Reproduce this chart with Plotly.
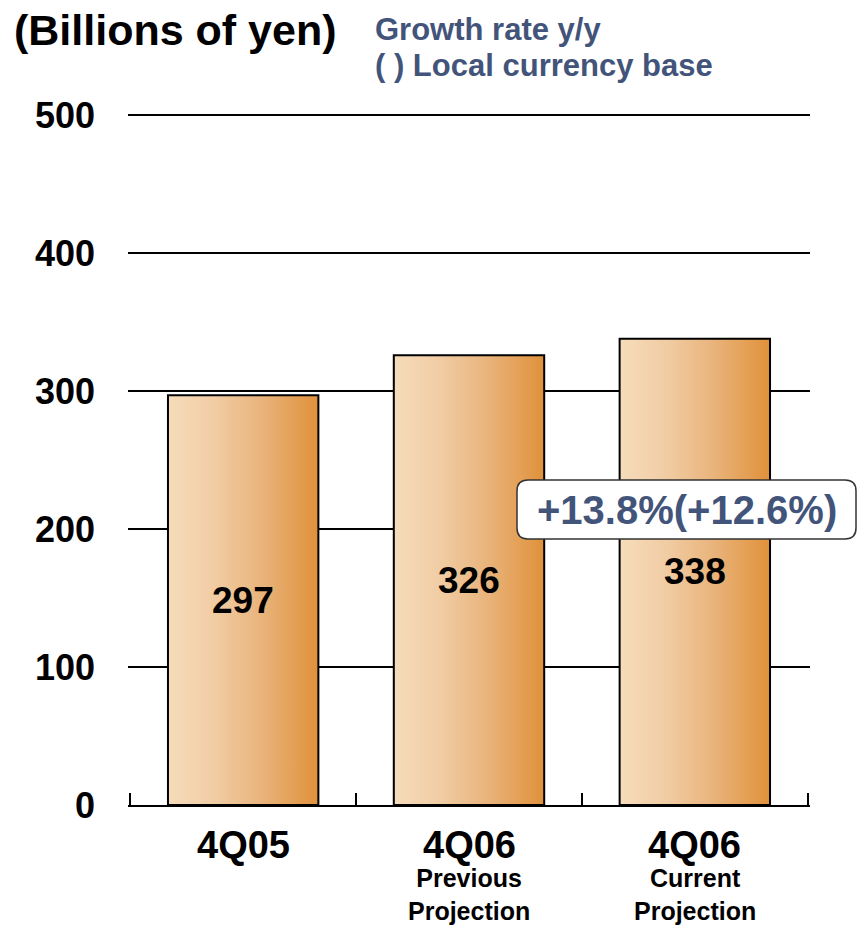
import plotly.graph_objects as go

# Quarterly values (billions of yen)
categories = ["4Q05", "4Q06", "4Q06"]
sublabels = ["", "Previous<br>Projection", "Current<br>Projection"]
values = [297, 326, 338]
growth_label = "+13.8%(+12.6%)"
y_ticks = [0, 100, 200, 300, 400, 500]

FONT = "Liberation Sans, Arial, sans-serif"
BLUE = "#43547a"
BAR_HALF = 0.333
GRADIENT = [[0.0, "#f6dcbb"], [0.3, "#f1cda5"], [0.62, "#e9b47c"], [1.0, "#e0913a"]]

# plot area geometry (pixels)
W, H = 857, 925
ML, MR, MT, MB = 128, 47, 114, 120
PW, PH = W - ML - MR, H - MT - MB
X_PAD = 0.01    # keeps the outer tick marks inside the axis range
Y_TOP = 501     # keeps the 500 gridline inside the axis range


def px_to_paper(px, py):
    return (px - ML) / PW, (H - MB - py) / PH


fig = go.Figure()

for i, v in enumerate(values):
    x0, x1 = i - BAR_HALF, i + BAR_HALF
    fig.add_trace(go.Scatter(
        x=[x0, x1, x1, x0, x0],
        y=[0, 0, v, v, 0],
        mode="lines",
        fill="toself",
        fillgradient=dict(type="horizontal", colorscale=GRADIENT),
        line=dict(color="black", width=2),
        hoverinfo="skip",
        showlegend=False,
    ))
    # value label in the middle of the bar
    fig.add_annotation(x=i, y=v / 2, xref="x", yref="y", text=str(v),
                       showarrow=False,
                       font=dict(family=FONT, size=37, color="black", weight="bold"))

# category labels under the axis
for i, (c, s) in enumerate(zip(categories, sublabels)):
    fig.add_annotation(x=i, y=px_to_paper(0, 845)[1], xref="x", yref="paper",
                       text=c, showarrow=False, yanchor="middle",
                       font=dict(family=FONT, size=38, color="black", weight="bold"))
    if s:
        fig.add_annotation(x=i, y=px_to_paper(0, 894)[1], xref="x", yref="paper",
                           text=s, showarrow=False, yanchor="middle",
                           font=dict(family=FONT, size=25, color="black", weight="bold"))

# headings
fig.add_annotation(x=px_to_paper(12, 0)[0], y=px_to_paper(0, 30)[1],
                   xref="paper", yref="paper", text="(Billions of yen)",
                   showarrow=False, xanchor="left", yanchor="middle",
                   font=dict(family=FONT, size=43, color="black", weight="bold"))
fig.add_annotation(x=px_to_paper(373, 0)[0], y=px_to_paper(0, 29)[1],
                   xref="paper", yref="paper", text="Growth rate y/y",
                   showarrow=False, xanchor="left", yanchor="middle",
                   font=dict(family=FONT, size=31, color=BLUE, weight="bold"))
fig.add_annotation(x=px_to_paper(373, 0)[0], y=px_to_paper(0, 65)[1],
                   xref="paper", yref="paper", text="( ) Local currency base",
                   showarrow=False, xanchor="left", yanchor="middle",
                   font=dict(family=FONT, size=31, color=BLUE, weight="bold"))

# rounded callout box with the growth rate
bx0, by0, bx1, by1, r = 517, 480, 856, 539, 11


def rounded_path(x0, y0, x1, y1, r):
    def P(x, y):
        px, py = px_to_paper(x, y)
        return f"{px:.5f},{py:.5f}"
    return (f"M {P(x0 + r, y0)} L {P(x1 - r, y0)} Q {P(x1, y0)} {P(x1, y0 + r)} "
            f"L {P(x1, y1 - r)} Q {P(x1, y1)} {P(x1 - r, y1)} "
            f"L {P(x0 + r, y1)} Q {P(x0, y1)} {P(x0, y1 - r)} "
            f"L {P(x0, y0 + r)} Q {P(x0, y0)} {P(x0 + r, y0)} Z")


fig.add_shape(type="path", xref="paper", yref="paper",
              path=rounded_path(bx0, by0, bx1, by1, r),
              fillcolor="white", line=dict(color="#333333", width=1.5),
              layer="above")
cx, cy = px_to_paper((bx0 + bx1) / 2, (by0 + by1) / 2)
fig.add_annotation(x=cx, y=cy, xref="paper", yref="paper", text=growth_label,
                   showarrow=False, xanchor="center", yanchor="middle",
                   font=dict(family=FONT, size=40, color=BLUE, weight="bold"))

fig.update_layout(
    width=W, height=H,
    margin=dict(l=ML, r=MR, t=MT, b=MB, pad=0),
    paper_bgcolor="white", plot_bgcolor="white",
    showlegend=False,
    xaxis=dict(
        range=[-0.5 - X_PAD, len(values) - 0.5 + X_PAD],
        tickvals=[i - 0.5 for i in range(len(values) + 1)],
        ticktext=[""] * (len(values) + 1),
        ticks="inside", ticklen=12, tickwidth=2, tickcolor="black",
        showline=True, linecolor="black", linewidth=2,
        showgrid=False, zeroline=False, fixedrange=True,
    ),
    yaxis=dict(
        range=[0, Y_TOP],
        tickvals=y_ticks,
        ticktext=[str(t) for t in y_ticks],
        tickfont=dict(family=FONT, size=36, color="black", weight="bold"),
        ticklabelstandoff=32,
        showgrid=True, gridcolor="black", gridwidth=1.5,
        zeroline=False, showline=False, ticks="", fixedrange=True,
    ),
)

fig.write_html("out.html")
